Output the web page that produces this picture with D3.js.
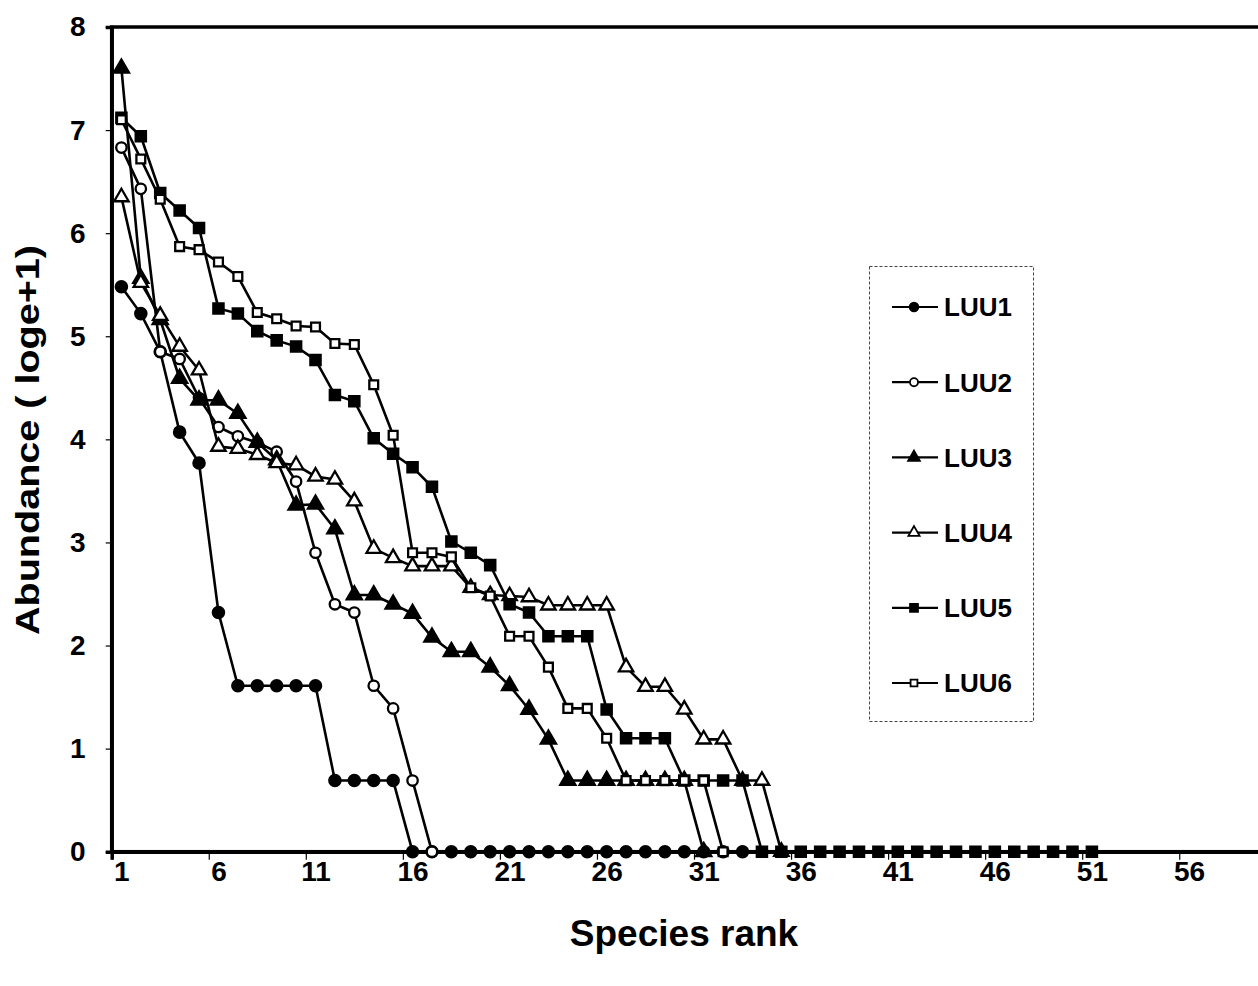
<!DOCTYPE html>
<html>
<head>
<meta charset="utf-8">
<script src="https://cdn.jsdelivr.net/npm/d3@7/dist/d3.min.js"></script>
<style>
  body { margin: 0; background: #fff; }
  svg { display: block; font-family: "Liberation Sans", Arial, sans-serif; }
</style>
</head>
<body>
<div id="chart"></div>
<script>
// abundance values (loge+1) by species rank, rank = index + 1
const luu1 = [5.48, 5.22, 4.85, 4.07, 3.77, 2.32, 1.61, 1.61, 1.61, 1.61, 1.61, 0.69, 0.69, 0.69, 0.69,
  0, 0, 0, 0, 0, 0, 0, 0, 0, 0, 0, 0, 0, 0, 0, 0, 0, 0];
const luu2 = [6.83, 6.43, 4.85, 4.78, 4.40, 4.12, 4.03, 3.97, 3.88, 3.59, 2.90, 2.40, 2.32, 1.61, 1.39, 0.69, 0];
const luu3 = [7.60, 5.56, 5.16, 4.59, 4.38, 4.38, 4.25, 3.97, 3.80, 3.36, 3.37, 3.13, 2.49, 2.49, 2.40, 2.31,
  2.08, 1.94, 1.94, 1.79, 1.61, 1.38, 1.09, 0.69, 0.69, 0.69, 0.69, 0.69, 0.69, 0.69, 0];
const luu4 = [6.35, 5.52, 5.20, 4.90, 4.67, 3.93, 3.91, 3.85, 3.77, 3.75, 3.64, 3.61, 3.40, 2.94, 2.85, 2.77,
  2.77, 2.77, 2.56, 2.49, 2.48, 2.47, 2.39, 2.39, 2.39, 2.39, 1.79, 1.60, 1.60, 1.38, 1.09, 1.09, 0.69, 0.69, 0];
const luu5 = [7.12, 6.94, 6.39, 6.22, 6.05, 5.27, 5.22, 5.05, 4.96, 4.90, 4.77, 4.43, 4.37, 4.01, 3.86, 3.73,
  3.54, 3.01, 2.90, 2.78, 2.40, 2.32, 2.09, 2.09, 2.09, 1.38, 1.10, 1.10, 1.10, 0.69, 0.69, 0.69, 0.69,
  0, 0, 0, 0, 0, 0, 0, 0, 0, 0, 0, 0, 0, 0, 0, 0, 0, 0];
const luu6 = [7.10, 6.72, 6.33, 5.87, 5.84, 5.72, 5.58, 5.23, 5.17, 5.10, 5.09, 4.93, 4.92, 4.53, 4.04, 2.90,
  2.90, 2.86, 2.56, 2.48, 2.09, 2.09, 1.79, 1.39, 1.39, 1.10, 0.69, 0.69, 0.69, 0.69, 0.69, 0];

const seriesNames = ["LUU1", "LUU2", "LUU3", "LUU4", "LUU5", "LUU6"];
const seriesValues = [luu1, luu2, luu3, luu4, luu5, luu6];
const xTickLabels = [1, 6, 11, 16, 21, 26, 31, 36, 41, 46, 51, 56];
const yTicks = [0, 1, 2, 3, 4, 5, 6, 7, 8];
const rankCount = 60;

const width = 1258;
const height = 986;
const plot = { left: 111.7, top: 27, bottom: 851.7 };
const bandW = 19.41;

// marker look per series: shape + filled or open
const markers = [
  { type: d3.symbolCircle, size: 100, fill: "#000" },
  { type: d3.symbolCircle, size: 85, fill: "#fff" },
  { type: d3.symbolTriangle, size: 100, fill: "#000" },
  { type: d3.symbolTriangle, size: 90, fill: "#fff" },
  { type: d3.symbolSquare, size: 105, fill: "#000" },
  { type: d3.symbolSquare, size: 78, fill: "#fff" }
];

const svg = d3.select("#chart").append("svg")
  .attr("width", width)
  .attr("height", height);

const x = d3.scaleLinear()
  .domain([0.5, rankCount + 0.5])
  .range([plot.left, plot.left + rankCount * bandW]);

const y = d3.scaleLinear()
  .domain([0, 8])
  .range([plot.bottom, plot.top]);

// plot frame (right side falls outside the picture)
svg.append("rect")
  .attr("x", x(0.5))
  .attr("y", y(8))
  .attr("width", x(rankCount + 0.5) - x(0.5))
  .attr("height", y(0) - y(8))
  .attr("fill", "none")
  .attr("stroke", "#000")
  .attr("stroke-width", 3.5);

const tickFont = sel => sel
  .attr("font-size", 28)
  .attr("font-weight", "bold")
  .attr("font-family", "Liberation Sans, Arial, sans-serif")
  .attr("fill", "#000");

// y axis
const yAxis = svg.append("g")
  .attr("transform", `translate(${plot.left},0)`)
  .call(d3.axisLeft(y).tickValues(yTicks).tickSize(6).tickPadding(20).tickFormat(d3.format("d")));
yAxis.select(".domain").attr("stroke-width", 3.5);
yAxis.selectAll(".tick line").attr("stroke-width", 1.2);
yAxis.selectAll("text").call(tickFont);

// x axis: tick marks between categories, labels on categories
const xMarks = svg.append("g")
  .attr("transform", `translate(0,${plot.bottom})`)
  .call(d3.axisBottom(x).tickValues(d3.range(0.5, rankCount + 1, 5)).tickSize(8).tickFormat(""));
xMarks.select(".domain").attr("stroke-width", 3.5);
xMarks.selectAll(".tick line").attr("stroke-width", 1.2);

const xLabels = svg.append("g")
  .attr("transform", `translate(0,${plot.bottom})`)
  .call(d3.axisBottom(x).tickValues(xTickLabels).tickSize(0).tickPadding(9).tickFormat(d3.format("d")));
xLabels.select(".domain").remove();
xLabels.selectAll("text").call(tickFont);

// series
const line = d3.line()
  .x((d, i) => x(i + 1))
  .y(d => y(d));

seriesValues.forEach((vals, s) => {
  const g = svg.append("g");
  g.append("path")
    .datum(vals)
    .attr("d", line)
    .attr("fill", "none")
    .attr("stroke", "#000")
    .attr("stroke-width", 2.6);
  g.selectAll("path.mark")
    .data(vals)
    .enter()
    .append("path")
    .attr("class", "mark")
    .attr("d", d3.symbol().type(markers[s].type).size(markers[s].size))
    .attr("transform", (d, i) => `translate(${x(i + 1)},${y(d)})`)
    .attr("fill", markers[s].fill)
    .attr("stroke", "#000")
    .attr("stroke-width", 2.3);
});

// legend
const legend = svg.append("g");
legend.append("rect")
  .attr("x", 869.5)
  .attr("y", 266.5)
  .attr("width", 164)
  .attr("height", 455)
  .attr("fill", "#fff")
  .attr("stroke", "#444")
  .attr("stroke-width", 1)
  .attr("stroke-dasharray", "3,2");

const legendY = d3.scalePoint()
  .domain(seriesNames)
  .range([307, 683]);

const item = legend.selectAll("g.item")
  .data(seriesNames)
  .enter()
  .append("g")
  .attr("class", "item")
  .attr("transform", d => `translate(0,${legendY(d)})`);

item.append("line")
  .attr("x1", 892)
  .attr("x2", 938)
  .attr("stroke", "#000")
  .attr("stroke-width", 2.2);

item.append("path")
  .attr("d", (d, i) => d3.symbol().type(markers[i].type).size(markers[i].size * 0.6)())
  .attr("transform", "translate(914,0)")
  .attr("fill", (d, i) => markers[i].fill)
  .attr("stroke", "#000")
  .attr("stroke-width", 1.8);

item.append("text")
  .attr("x", 944)
  .attr("dy", "0.36em")
  .attr("font-size", 26)
  .attr("font-weight", "bold")
  .text(d => d);

// axis titles
svg.append("text")
  .attr("x", 684)
  .attr("y", 946)
  .attr("text-anchor", "middle")
  .attr("font-size", 37)
  .attr("font-weight", "bold")
  .text("Species rank");

svg.append("text")
  .attr("transform", "translate(39,440) rotate(-90)")
  .attr("text-anchor", "middle")
  .attr("font-size", 34)
  .attr("font-weight", "bold")
  .attr("textLength", 390)
  .attr("lengthAdjust", "spacingAndGlyphs")
  .text("Abundance ( loge+1)");
</script>
</body>
</html>
